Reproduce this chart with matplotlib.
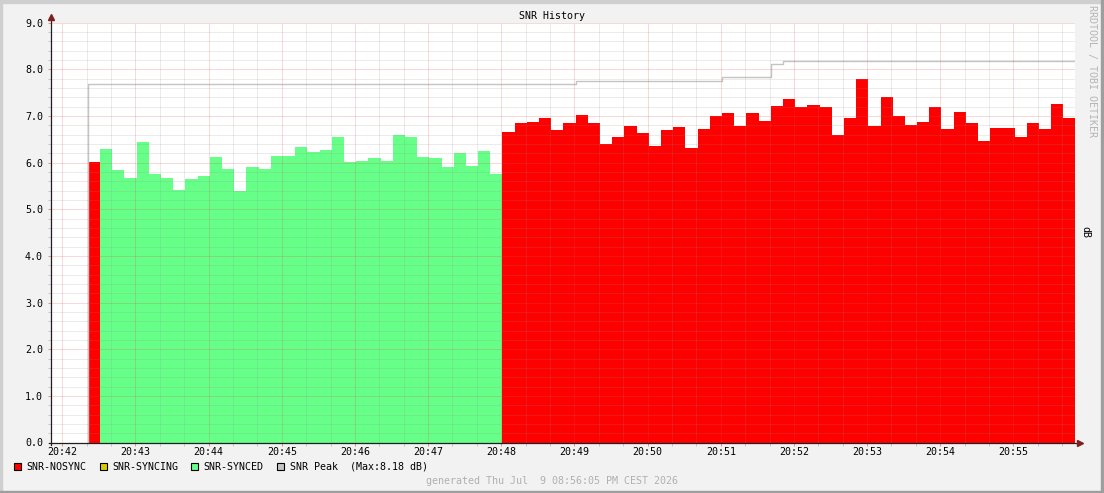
import matplotlib
matplotlib.use("Agg")
import matplotlib.pyplot as plt
from matplotlib.ticker import MultipleLocator, FuncFormatter
from matplotlib.patches import Rectangle
import numpy as np

# ---------------- data ----------------
title = "SNR History"
unit_label = "dB"
watermark = "RRDTOOL / TOBI OETIKER"
footer = "generated Thu Jul  9 08:56:05 PM CEST 2026"

# time axis: seconds after 20:42:00
base_hour, base_minute = 20, 42
first_sample_s = 21          # first sample starts at ~20:42:21
step_s = 10
x_range_s = (-9.5, 830.5)

snr_db = [
    6.02,
    6.30, 5.85, 5.68, 6.45, 5.76, 5.66, 5.42, 5.64, 5.72, 6.13,
    5.87, 5.40, 5.91, 5.87, 6.15, 6.15, 6.34, 6.23, 6.27, 6.56,
    6.02, 6.04, 6.11, 6.04, 6.60, 6.54, 6.13, 6.09, 5.91, 6.21,
    5.93, 6.26, 5.76,
    6.66, 6.84, 6.88, 6.96, 6.69, 6.86, 7.03, 6.86, 6.41, 6.56,
    6.79, 6.64, 6.36, 6.69, 6.77, 6.32, 6.73, 6.99, 7.07, 6.79,
    7.07, 6.90, 7.22, 7.37, 7.20, 7.24, 7.20, 6.60, 6.96, 7.80,
    6.79, 7.41, 6.99, 6.81, 6.88, 7.20, 6.73, 7.09, 6.86, 6.47,
    6.75, 6.75, 6.56, 6.86, 6.73, 7.26, 6.96,
]
state_runs = [("SNR-NOSYNC", 1), ("SNR-SYNCED", 33), ("SNR-NOSYNC", 47)]
peak_runs = [(7.69, 40), (7.75, 12), (7.84, 4), (8.11, 1), (8.18, 24)]

series_names = ["SNR-NOSYNC", "SNR-SYNCING", "SNR-SYNCED"]
series_colors = {"SNR-NOSYNC": "#ff0000", "SNR-SYNCING": "#d8cc00", "SNR-SYNCED": "#66ff88"}
peak_name = "SNR Peak"
peak_color = "#c4c4c4"

y_range = (0.0, 9.0)

# ---------------- prepare ----------------
n = len(snr_db)
t_start = first_sample_s + step_s * np.arange(n)
states = []
for s, k in state_runs:
    states += [s] * k
states = np.array(states)
peak = []
for v, k in peak_runs:
    peak += [v] * k
peak = np.array(peak)
snr = np.array(snr_db)

W, H = 1104, 493
plt.rcParams["font.family"] = ["DejaVu Sans Mono"]
FS = 7.2

fig = plt.figure(figsize=(W / 100, H / 100), dpi=100, facecolor="#f2f2f2")

# 3D shade border
fig.patches.append(Rectangle((0, 1 - 2.5 / H), 1, 2.5 / H, transform=fig.transFigure, color="#cfcfcf", zorder=0))
fig.patches.append(Rectangle((0, 0), 2 / W, 1, transform=fig.transFigure, color="#cfcfcf", zorder=0))
fig.patches.append(Rectangle((0, 0), 1, 2.2 / H, transform=fig.transFigure, color="#9e9e9e", zorder=0))
fig.patches.append(Rectangle((1 - 3.5 / W, 0), 3.5 / W, 1, transform=fig.transFigure, color="#9e9e9e", zorder=0))

left_px, right_px, bottom_px, top_px = 50.7, 1075.0, 442.5, 22.7
ax = fig.add_axes([left_px / W, 1 - bottom_px / H, (right_px - left_px) / W, (bottom_px - top_px) / H])
ax.set_facecolor("white")

for name in series_names:
    m = states == name
    if m.any():
        ax.bar(t_start[m], snr[m], width=step_s, align="edge", color=series_colors[name],
               linewidth=0, zorder=1)

# peak line (step), rising from zero at the first sample
px = np.concatenate([[t_start[0]], t_start, [t_start[-1] + step_s]])
py = np.concatenate([[0.0], peak, [peak[-1]]])
ax.step(px, py, where="post", color=peak_color, linewidth=1.0, zorder=2)

ax.set_xlim(*x_range_s)
ax.set_ylim(*y_range)

ax.xaxis.set_major_locator(MultipleLocator(60))
ax.xaxis.set_minor_locator(MultipleLocator(20))
ax.yaxis.set_major_locator(MultipleLocator(1.0))
ax.yaxis.set_minor_locator(MultipleLocator(0.2))


def tfmt(v, pos):
    total = int(round(v / 60.0)) + base_hour * 60 + base_minute
    return f"{(total // 60) % 24:02d}:{total % 60:02d}"


ax.xaxis.set_major_formatter(FuncFormatter(tfmt))
ax.yaxis.set_major_formatter(FuncFormatter(lambda v, p: f"{v:.1f}"))

ax.set_axisbelow(False)
ax.grid(which="major", color="#de4f4f", alpha=0.42, linestyle=(0, (1, 1)), linewidth=0.72)
ax.grid(which="minor", color="#8f8f8f", alpha=0.34, linestyle=(0, (1, 1)), linewidth=0.72)

ax.tick_params(which="both", length=2, width=0.72, direction="out")
ax.tick_params(which="major", color="#e89090", labelsize=FS, labelcolor="black")
ax.tick_params(axis="x", which="major", pad=1.5)
ax.tick_params(axis="y", which="major", pad=3.5)
ax.tick_params(which="minor", color="#c8c8c8")

for sp in ax.spines.values():
    sp.set_visible(False)

# axes lines with arrows
axis_col = "#1f1f1f"
arrow_col = "#801f1f"
ax.plot([0, 0], [-3 / 420, 1.012], transform=ax.transAxes, color=axis_col, lw=0.9, clip_on=False, zorder=5)
ax.plot([-2 / 1024, 1.004], [0, 0], transform=ax.transAxes, color=axis_col, lw=0.9, clip_on=False, zorder=5)
ax.plot([0], [1.0135], transform=ax.transAxes, marker="^", markersize=4.2, color=arrow_col, clip_on=False, zorder=6)
ax.plot([1.0045], [0], transform=ax.transAxes, marker=">", markersize=4.2, color=arrow_col, clip_on=False, zorder=6)

# title and side texts
fig.text(552 / W, 1 - 16 / H, title, ha="center", va="center", fontsize=FS, color="black")
fig.text(1085 / W, 1 - 232 / H, unit_label, ha="center", va="center", rotation=270, fontsize=FS, color="black")
fig.text(1092.5 / W, 1 - 71 / H, watermark, ha="center", va="center", rotation=270, fontsize=FS, color="#b4b4b4")
fig.text(552 / W, 1 - 480.5 / H, footer, ha="center", va="center", fontsize=FS, color="#b0b0b0")

# legend
legend_items = [(n_, series_colors[n_]) for n_ in series_names] + [(f"{peak_name}  (Max:{peak.max():.2f} dB)", peak_color)]
legend_x = [14, 99.5, 191, 277]
ly = 466.5
for (label, col), x0 in zip(legend_items, legend_x):
    fig.patches.append(Rectangle((x0 / W, 1 - (ly + 3.5) / H), 7 / W, 7 / H, transform=fig.transFigure,
                                 facecolor=col, edgecolor="black", linewidth=0.8, zorder=3))
    fig.text((x0 + 12.5) / W, 1 - ly / H, label, ha="left", va="center", fontsize=FS, color="black")

fig.savefig("out.png", dpi=100, facecolor=fig.get_facecolor())
